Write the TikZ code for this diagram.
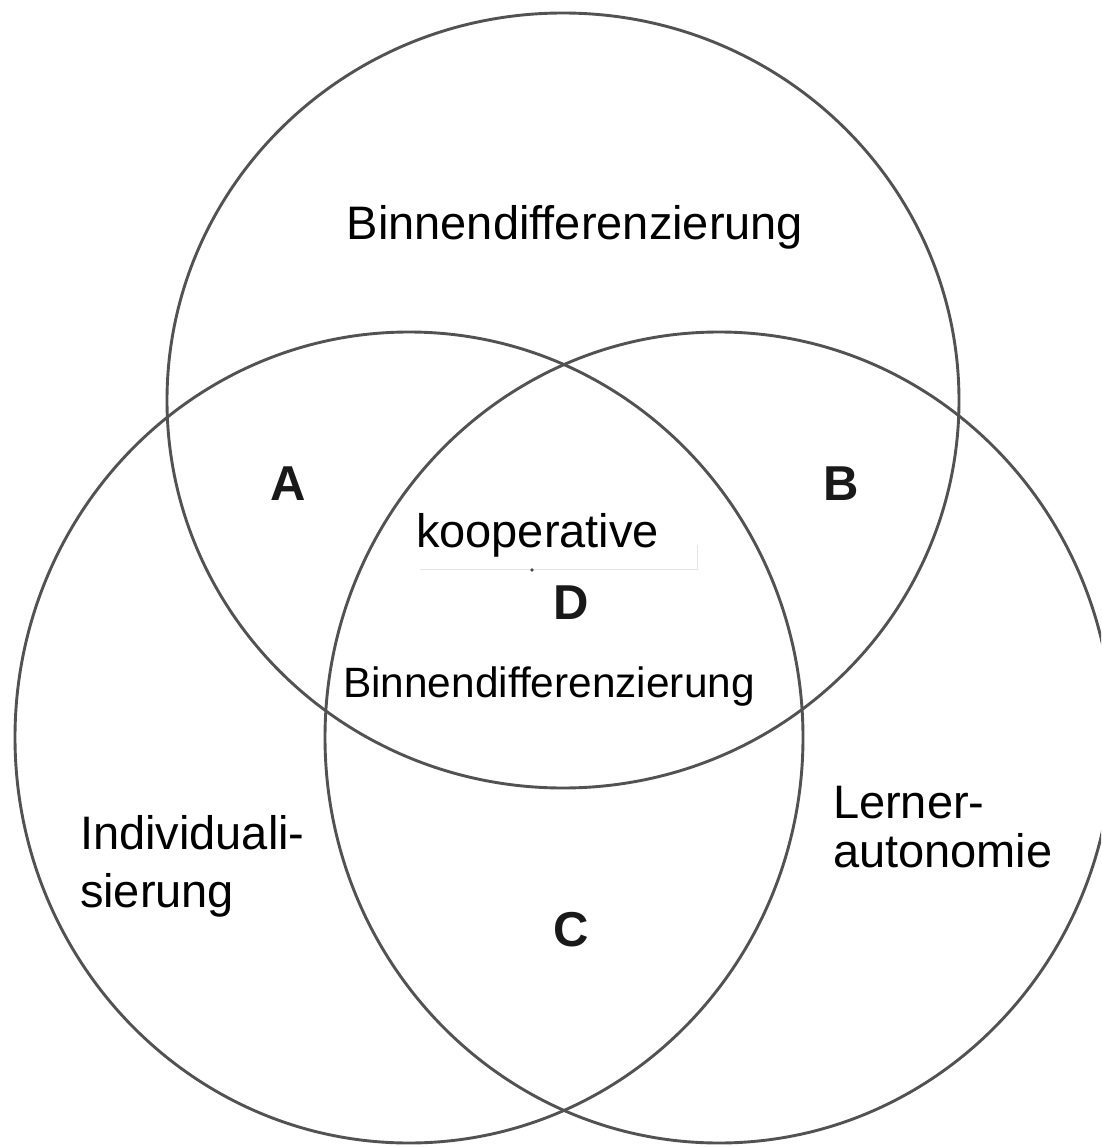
\documentclass[tikz,border=0pt]{standalone}
\usepackage{fontspec}
\setmainfont{Liberation Sans}
\usetikzlibrary{shapes.geometric}

\tikzset{
  ring/.style={ellipse, draw=black!68, line width=2.9pt, inner sep=0pt, outer sep=0pt},
  label/.style={inner sep=0pt, outer sep=0pt, font=\fontsize{47}{56}\selectfont},
  smalllabel/.style={inner sep=0pt, outer sep=0pt, font=\fontsize{42.4}{50}\selectfont},
  region/.style={inner sep=0pt, outer sep=0pt, font=\fontsize{49}{58}\selectfont\bfseries, text=black!90}
}

\begin{document}
\begin{tikzpicture}[x=1pt, y=-1pt]
  % page frame and clipping to the picture area
  \fill[white] (0,0) rectangle (1101,1147);
  \useasboundingbox (0,0) rectangle (1101,1147);
  \clip (0,0) rectangle (1101,1147);

  % the three overlapping sets
  \node[ring, minimum width=792pt, minimum height=775pt] (top)   at (563,400.5) {};
  \node[ring, minimum width=788pt, minimum height=811pt] (left)  at (409,737.5) {};
  \node[ring, minimum width=788pt, minimum height=811pt] (right) at (719,737.5) {};

  % set names
  \node[label, anchor=base] (tname) at (575,240) {Binnendifferenzierung};
  \node[label, anchor=base west] (lname1) at (80,849) {Individuali-};
  \node[label, anchor=base west] (lname2) at (80,907) {sierung};
  \node[label, anchor=base west] (rname1) at (833,818) {Lerner-};
  \node[label, anchor=base west] (rname2) at (833,867) {autonomie};

  % centre region
  \node[label, anchor=base] (coop) at (537.5,547) {kooperative};
  \node[smalllabel, anchor=base] (cname) at (549,697) {Binnendifferenzierung};
  \draw[black!10, line width=1pt] (420,569) coordinate (faintA) -- (697,569) coordinate (faintB) -- (697,545) coordinate (faintC);
  \fill[black!70] (532,570) circle (1.8pt);

  % region letters
  \node[region] (A) at (288,484) {A};
  \node[region] (B) at (841,484) {B};
  \node[region] (C) at (571,930) {C};
  \node[region] (D) at (571,603) {D};
\end{tikzpicture}
\end{document}
